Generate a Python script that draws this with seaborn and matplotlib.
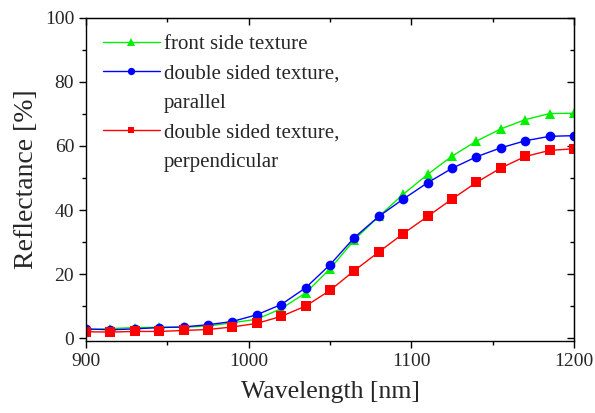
import pandas as pd
import matplotlib
matplotlib.use("Agg")
import matplotlib.pyplot as plt
from matplotlib.lines import Line2D
from matplotlib.ticker import MultipleLocator
import seaborn as sns

# values
wavelength = [900, 915, 930, 945, 960, 975, 990, 1005, 1020, 1035, 1050,
              1065, 1080, 1095, 1110, 1125, 1140, 1155, 1170, 1185, 1200]
front_side = [2.6, 3.0, 3.3, 3.4, 3.4, 3.8, 4.8, 5.9, 9.2, 14.1, 21.6,
              30.7, 38.0, 44.9, 51.1, 56.8, 61.5, 65.3, 68.2, 70.1, 70.2]
double_parallel = [2.9, 2.6, 2.9, 3.3, 3.5, 4.2, 5.2, 7.3, 10.5, 15.7, 22.9,
                   31.4, 38.0, 43.4, 48.5, 53.0, 56.6, 59.4, 61.6, 63.0, 63.2]
double_perpendicular = [2.0, 1.9, 2.1, 2.1, 2.4, 2.7, 3.5, 4.6, 6.8, 10.0, 14.9,
                        21.1, 26.9, 32.6, 38.0, 43.4, 48.6, 53.1, 56.7, 58.6, 59.1]

labels = ["front side texture",
          "double sided texture,\nparallel",
          "double sided texture,\nperpendicular"]

sns.set_style("ticks")
plt.rcParams['font.family'] = ['Liberation Serif', 'DejaVu Serif']

fig = plt.figure(figsize=(5.95, 4.13), dpi=100)
ax = fig.add_axes([0.1445, 0.175, 0.8202, 0.782])

series = [
    (front_side, labels[0], "#00f000", "^", 7.5),
    (double_parallel, labels[1], "#0000ff", "o", 7),
    (double_perpendicular, labels[2], "#ff0000", "s", 6.5),
]
for values, label, color, marker, msize in series:
    df = pd.DataFrame({"wavelength": wavelength, "reflectance": values})
    sns.lineplot(data=df, x="wavelength", y="reflectance", ax=ax,
                 color=color, marker=marker, markersize=msize,
                 markeredgewidth=0, linewidth=1.0, label=label)

ax.set_xlim(900, 1200)
ax.set_ylim(-0.8, 100)

# ticks out on bottom/left, mirrored inward ticks on top/right
top_ax = ax.secondary_xaxis("top")
right_ax = ax.secondary_yaxis("right")
for a in (ax.xaxis, top_ax.xaxis):
    a.set_major_locator(MultipleLocator(100))
    a.set_minor_locator(MultipleLocator(50))
for a in (ax.yaxis, right_ax.yaxis):
    a.set_major_locator(MultipleLocator(20))
    a.set_minor_locator(MultipleLocator(10))

ax.tick_params(which="both", direction="out", labelsize=14, width=1, color="black")
for side_ax in (top_ax, right_ax):
    side_ax.tick_params(which="both", direction="in", labeltop=False,
                        labelright=False, width=1, color="black")
for a in (ax, top_ax, right_ax):
    a.tick_params(which="major", length=5)
    a.tick_params(which="minor", length=3)

for spine in ax.spines.values():
    spine.set_visible(True)
    spine.set_linewidth(1)
    spine.set_color("black")

ax.set_xlabel("Wavelength [nm]", fontsize=18.5, labelpad=8)
ax.set_ylabel("Reflectance [%]", fontsize=20, labelpad=4)

# legend: handle sits beside the first line of each label, second line below
handles, _ = ax.get_legend_handles_labels()
blank = Line2D([], [], linestyle="none", marker=None)
leg_handles, leg_labels = [], []
for h, lab in zip(handles, labels):
    first, *rest = lab.split("\n")
    leg_handles.append(h)
    leg_labels.append(first)
    for line in rest:
        leg_handles.append(blank)
        leg_labels.append(line)

ax.legend(leg_handles, leg_labels, loc="upper left", frameon=False, fontsize=15,
          handlelength=2.75, handletextpad=0.2, borderaxespad=0.3,
          borderpad=0.5, labelspacing=0.47, markerscale=0.75)

fig.savefig("out.png", dpi=100)
